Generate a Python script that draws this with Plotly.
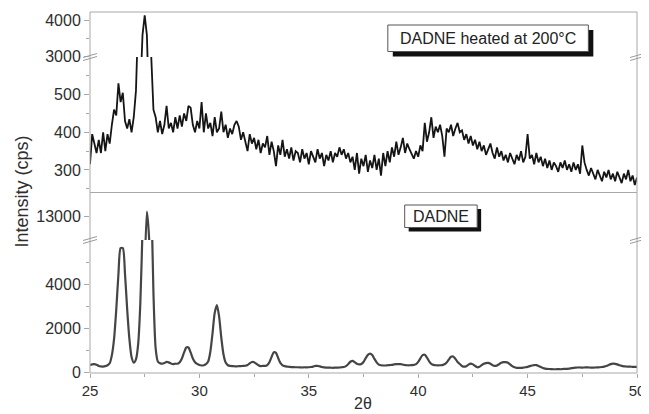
import plotly.graph_objects as go

# ---------------- data ----------------
two_theta = [round(25 + 0.1 * i, 1) for i in range(251)]

heated_200C = [
    315, 395, 370, 345, 380, 345, 400, 350, 395, 370,
    420, 460, 445, 530, 480, 505, 430, 410, 435, 400,
    440, 510, 700, 2000, 3600, 4150, 3600, 1500, 600, 460,
    440, 400, 430, 395, 420, 470, 410, 425, 400, 440,
    410, 445, 415, 450, 430, 470, 465, 420, 400, 430,
    410, 480, 400, 450, 410, 425, 390, 440, 400, 410,
    455, 400, 420, 385, 410, 395, 420, 430, 415, 380,
    400, 375, 350, 395, 370, 385, 355, 380, 345, 370,
    360, 390, 340, 375, 350, 310, 365, 340, 380, 335,
    355, 330, 360, 325, 350, 345, 320, 355, 330, 345,
    315, 350, 335, 320, 355, 330, 345, 310, 340, 325,
    350, 320, 345, 335, 360, 340, 355, 330, 345, 320,
    335, 300, 345, 290, 330, 310, 340, 295, 325, 305,
    340, 300, 330, 285, 345, 310, 350, 320, 360, 335,
    375, 340, 360, 385, 345, 370, 355, 340, 330, 350,
    335, 365, 350, 425, 375, 400, 440, 385, 415, 400,
    420, 390, 335, 410, 400, 420, 390, 410, 425, 400,
    405, 380, 395, 370, 390, 365, 380, 355, 375, 350,
    365, 340, 355, 370, 345, 330, 360, 335, 350, 325,
    340, 320, 345, 330, 315, 340, 325, 350, 320, 335,
    395, 330, 340, 315, 345, 320, 335, 310, 330, 305,
    325, 300, 320, 310, 295, 320, 305, 325, 300, 315,
    295, 320, 300, 315, 290, 365, 320, 300, 285, 305,
    290, 275, 300, 285, 270, 295, 280, 300, 275, 290,
    270, 295, 280, 265, 290, 275, 300, 270, 285, 260,
    280,
]

dadne = [
    340, 370, 380, 350, 300, 280, 270, 290, 330, 420,
    790, 1530, 2850, 4460, 5630, 5630, 4460, 2850, 1530, 700,
    450, 600, 1280, 3140, 6500, 10700, 13200, 12100, 8230, 3600,
    1100, 500, 420, 400, 430, 480, 460, 410, 380, 400,
    400, 470, 640, 910, 1135, 1135, 910, 640, 470, 390,
    340, 320, 330, 380, 500, 944, 1777, 2700, 3055, 2540,
    1587, 825, 450, 330, 300, 290, 285, 280, 290, 295,
    300, 310, 340, 420, 480, 470, 400, 330, 290, 300,
    300, 340, 470, 710, 917, 890, 658, 435, 326, 290,
    270, 260, 250, 245, 240, 240, 235, 230, 240, 235,
    240, 250, 270, 300, 305, 280, 250, 235, 225, 220,
    220, 215, 220, 225, 230, 240, 250, 290, 380, 490,
    530, 470, 400, 370, 390, 480, 650, 800, 860, 790,
    620, 460, 360, 330, 320, 320, 330, 340, 350, 370,
    380, 385, 380, 360, 340, 330, 330, 335, 345, 385,
    482, 645, 790, 806, 679, 511, 396, 348, 330, 325,
    330, 340, 373, 457, 593, 715, 729, 622, 481, 385,
    300, 265, 290, 360, 400, 370, 300, 240, 260, 340,
    400, 430, 440, 400, 330, 300, 320, 380, 440, 470,
    470, 440, 370, 290, 240, 215, 210, 215, 225, 240,
    260, 290, 320, 340, 335, 300, 250, 210, 180, 165,
    160, 155, 150, 150, 155, 150, 160, 165, 170, 180,
    200, 215, 225, 230, 230, 225, 230, 235, 230, 225,
    225, 230, 235, 240, 250, 270, 300, 340, 380, 400,
    395, 370, 330, 300, 280, 275, 270, 265, 260, 258,
    260,
]

x_ticks = [25, 30, 35, 40, 45, 50]
x_minor = [27.5, 32.5, 37.5, 42.5, 47.5]

top_low_ticks = [300, 400, 500]
top_low_minor = [250, 350, 450, 550]
top_up_ticks = [3000, 4000]
top_up_minor = [3500]
bot_low_ticks = [0, 2000, 4000]
bot_low_minor = [1000, 3000, 5000]
bot_up_ticks = [13000]

label_top = "DADNE heated at 200°C"
label_bottom = "DADNE"

# ---------------- layout constants ----------------
# The page body keeps the browser's default 8px margin, so the figure is
# made 8px smaller and every position is given in window pixels.
BODY = 8
WIN_W, WIN_H = 649, 414
PLOT_L, PLOT_R, PLOT_T, PLOT_B = 90, 641, 12, 373
W, H = WIN_W - BODY, WIN_H - BODY
ML, MT = PLOT_L - BODY, PLOT_T - BODY
MR, MB = WIN_W - PLOT_R, WIN_H - PLOT_B
PW, PH = PLOT_R - PLOT_L, PLOT_B - PLOT_T
FONT = "Liberation Sans, Arial, Helvetica, sans-serif"
AXC = "#a8a8a8"
TXT = "#2e2e2e"


def px(xp):
    return (xp - PLOT_L) / PW


def py(yp):
    return (PLOT_B - yp) / PH


split_mid = py(192.5)
split_top = py(57)
split_bot = py(240)

fig = go.Figure()
fig.add_trace(go.Scatter(x=two_theta, y=dadne, xaxis="x", yaxis="y", mode="lines",
                         line=dict(color="#454545", width=2.2, shape="spline", smoothing=0.7),
                         hoverinfo="skip"))
fig.add_trace(go.Scatter(x=two_theta, y=dadne, xaxis="x", yaxis="y2", mode="lines",
                         line=dict(color="#454545", width=2.2, shape="spline", smoothing=0.7),
                         hoverinfo="skip"))
fig.add_trace(go.Scatter(x=two_theta, y=heated_200C, xaxis="x", yaxis="y3", mode="lines",
                         line=dict(color="#151515", width=1.8), hoverinfo="skip"))
fig.add_trace(go.Scatter(x=two_theta, y=heated_200C, xaxis="x", yaxis="y4", mode="lines",
                         line=dict(color="#151515", width=1.8), hoverinfo="skip"))


def yax(domain, rng, ticks, minor=None):
    d = dict(domain=domain, range=rng, anchor="x", tickmode="array", tickvals=ticks,
             ticktext=[str(t) for t in ticks],
             ticks="outside", ticklen=5, tickcolor=AXC, tickwidth=1,
             showgrid=False, zeroline=False, showline=False,
             tickfont=dict(family=FONT, size=16, color=TXT))
    if minor:
        d["minor"] = dict(tickmode="array", tickvals=minor, ticks="outside",
                          ticklen=3, tickcolor=AXC, showgrid=False)
    return d


shapes = []
# panel frames
for y0, y1 in [(0, split_mid), (split_mid, 1)]:
    shapes.append(dict(type="rect", xref="paper", yref="paper", x0=0, x1=1, y0=y0, y1=y1,
                       line=dict(color=AXC, width=1), fillcolor="rgba(0,0,0,0)", layer="above"))
# break marks
for ya in [split_top, split_bot]:
    for xa in [0, 1]:
        for off in [-1.5, 1.5]:
            shapes.append(dict(type="line", xref="paper", yref="paper",
                               xsizemode="pixel", ysizemode="pixel",
                               xanchor=xa, yanchor=ya,
                               x0=-7, x1=7, y0=-2 + off, y1=2 + off,
                               line=dict(color="#9a9a9a", width=1)))


def label_box(x0p, x1p, y0p, y1p, shadow=5):
    shapes.append(dict(type="rect", xref="paper", yref="paper",
                       x0=px(x0p + shadow), x1=px(x1p + shadow),
                       y0=py(y1p + shadow), y1=py(y0p + shadow),
                       line=dict(width=0), fillcolor="#111111", layer="above"))
    shapes.append(dict(type="rect", xref="paper", yref="paper",
                       x0=px(x0p), x1=px(x1p), y0=py(y1p), y1=py(y0p),
                       line=dict(color="#555555", width=1), fillcolor="white", layer="above"))


label_box(390, 592, 25, 51.5)
label_box(407, 480, 205, 227.5, shadow=4)

annotations = [
    dict(text=label_top, xref="paper", yref="paper", x=px(491), y=py(38.5),
         showarrow=False, font=dict(family=FONT, size=16, color="#222222"),
         xanchor="center", yanchor="middle"),
    dict(text=label_bottom, xref="paper", yref="paper", x=px(443.5), y=py(216.5),
         showarrow=False, font=dict(family=FONT, size=16, color="#222222"),
         xanchor="center", yanchor="middle"),
    dict(text="Intensity (cps)", xref="paper", yref="paper", x=px(21), y=py(192),
         showarrow=False, textangle=-90, font=dict(family=FONT, size=18, color=TXT),
         xanchor="center", yanchor="middle"),
    dict(text="2θ", xref="paper", yref="paper", x=px(365), y=py(403),
         showarrow=False, font=dict(family=FONT, size=16, color=TXT),
         xanchor="center", yanchor="middle"),
]

fig.update_layout(
    width=W, height=H, margin=dict(l=ML, r=MR, t=MT, b=MB, pad=0),
    paper_bgcolor="white", plot_bgcolor="white", showlegend=False,
    xaxis=dict(domain=[0, 1], range=[25, 50], anchor="y", tickmode="array", tickvals=x_ticks,
               ticks="outside", ticklen=4, tickcolor=AXC, showgrid=False, zeroline=False,
               showline=False, tickfont=dict(family=FONT, size=15, color=TXT),
               ticklabeloverflow="allow",
               minor=dict(tickmode="array", tickvals=x_minor, ticks="outside", ticklen=3,
                          tickcolor=AXC, showgrid=False)),
    yaxis=yax([0, split_bot], [-20, 6000], bot_low_ticks, bot_low_minor),
    yaxis2=yax([split_bot, split_mid], [12000, 14000], bot_up_ticks),
    yaxis3=yax([split_mid, split_top], [240, 600], top_low_ticks, top_low_minor),
    yaxis4=yax([split_top, 1], [2990, 4240], top_up_ticks, top_up_minor),
    shapes=shapes, annotations=annotations,
)

fig.write_html("out.html", config={"displayModeBar": False})
